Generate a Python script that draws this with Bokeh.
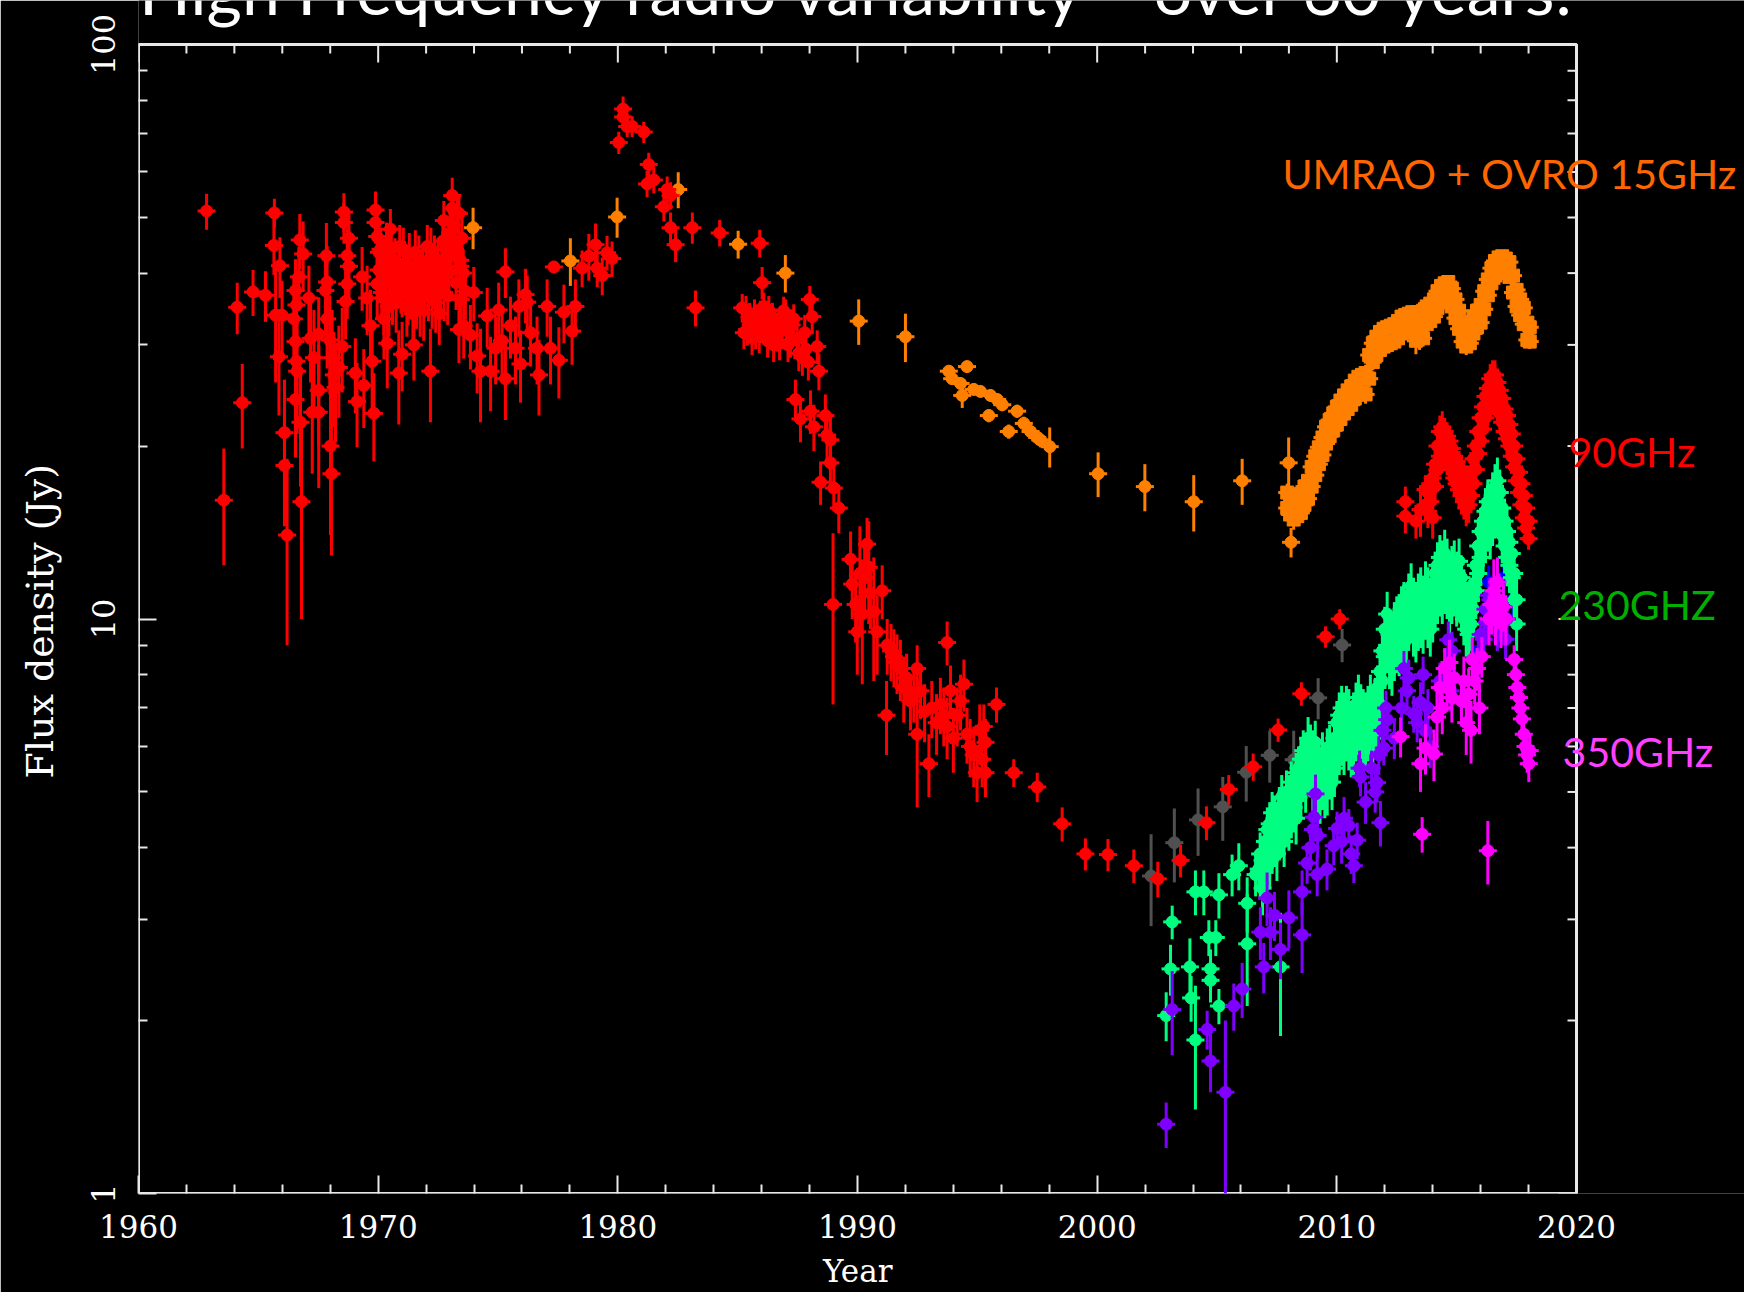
from bokeh.plotting import figure
from bokeh.models import Range1d, FixedTicker, Label
from bokeh.embed import file_html
from bokeh.resources import INLINE

# ---------------------------------------------------------------------------
# Flux density light curves: epoch (year), flux density (Jy), 1-sigma error (Jy)
# ---------------------------------------------------------------------------

# High-frequency (90 GHz) monitoring, individual epochs, red
red_year = [
    1962.84, 1963.56, 1964.12, 1964.33, 1964.78, 1965.30, 1965.65, 1965.67, 1965.72, 1965.86,
    1965.90, 1965.99, 1966.09, 1966.09, 1966.20, 1966.48, 1966.55, 1966.55, 1966.55, 1966.59,
    1966.59, 1966.62, 1966.69, 1966.73, 1966.76, 1966.80, 1966.87, 1967.11, 1967.18, 1967.25,
    1967.32, 1967.52, 1967.52, 1967.52, 1967.80, 1967.84, 1967.87, 1967.87, 1967.98, 1968.01,
    1968.05, 1968.08, 1968.15, 1968.22, 1968.36, 1968.50, 1968.57, 1968.57, 1968.64, 1968.71,
    1968.71, 1968.78, 1968.78, 1969.05, 1969.12, 1969.33, 1969.40, 1969.54, 1969.68, 1969.75,
    1969.82, 1969.89, 1969.89, 1969.96, 1969.96, 1970.03, 1970.03, 1970.10, 1970.20, 1970.24,
    1970.24, 1970.30, 1970.38, 1970.40, 1970.50, 1970.51, 1970.60, 1970.70, 1970.80, 1970.86,
    1970.90, 1971.00, 1971.00, 1971.10, 1971.20, 1971.30, 1971.40, 1971.49, 1971.50, 1971.60,
    1971.70, 1971.80, 1971.90, 1972.00, 1972.10, 1972.18, 1972.20, 1972.30, 1972.40, 1972.50,
    1972.60, 1972.70, 1972.74, 1972.80, 1972.90, 1973.00, 1973.09, 1973.09, 1973.20, 1973.30,
    1973.37, 1973.37, 1973.43, 1973.43, 1973.50, 1973.57, 1973.64, 1973.85, 1973.99, 1974.13,
    1974.27, 1974.55, 1974.69, 1974.90, 1975.03, 1975.17, 1975.31, 1975.31, 1975.52, 1975.73,
    1975.87, 1975.94, 1976.15, 1976.22, 1976.36, 1976.63, 1976.71, 1977.05, 1977.19, 1977.33,
    1977.54, 1977.75, 1978.09, 1978.23, 1978.51, 1978.79, 1979.07, 1979.14, 1979.35, 1979.55,
    1979.76, 1980.04, 1980.22, 1980.22, 1980.39, 1980.60, 1981.08, 1981.22, 1981.29, 1981.50,
    1981.92, 1982.06, 1982.20, 1982.20, 1982.41, 1983.11, 1983.24, 1984.25, 1985.19, 1985.26,
    1985.40, 1985.50, 1985.60, 1985.70, 1985.81, 1985.90, 1985.92, 1986.02, 1986.09, 1986.20,
    1986.30, 1986.37, 1986.50, 1986.65, 1986.80, 1986.92, 1987.05, 1987.20, 1987.34, 1987.41,
    1987.48, 1987.62, 1987.70, 1987.85, 1988.01, 1988.04, 1988.11, 1988.18, 1988.32, 1988.39,
    1988.46, 1988.66, 1988.73, 1988.87, 1988.87, 1988.98, 1989.01, 1989.22, 1989.71, 1989.78,
    1989.92, 1989.99, 1990.10, 1990.20, 1990.30, 1990.40, 1990.47, 1990.54, 1990.68, 1990.82,
    1991.03, 1991.21, 1991.24, 1991.40, 1991.52, 1991.65, 1991.79, 1991.93, 1992.05, 1992.21,
    1992.35, 1992.49, 1992.49, 1992.63, 1992.80, 1992.98, 1993.10, 1993.30, 1993.46, 1993.60,
    1993.74, 1993.74, 1993.88, 1994.00, 1994.16, 1994.30, 1994.44, 1994.57, 1994.70, 1994.85,
    1994.99, 1995.10, 1995.20, 1995.27, 1995.34, 1995.34, 1995.80, 1996.52, 1997.50, 1998.54,
    1999.51, 2000.45, 2001.53, 2002.53, 2003.48, 2004.56, 2005.49, 2006.51, 2007.55, 2008.52,
    2009.53, 2010.12, 2012.86, 2012.86, 2013.30, 2013.49,
    # second pass through the crowded 1970-1973 and 1985-1988 stretches
    1970.15, 1970.35, 1970.45, 1970.55, 1970.65, 1970.75, 1970.85, 1970.95, 1971.05, 1971.15,
    1971.25, 1971.35, 1971.45, 1971.55, 1971.65, 1971.75, 1971.85, 1971.95, 1972.05, 1972.15,
    1972.25, 1972.35, 1972.45, 1972.55, 1972.65, 1972.75, 1972.85, 1972.95, 1973.05, 1973.15,
    1973.25, 1973.35, 1973.45, 1973.55,
    1985.35, 1985.55, 1985.75, 1985.95, 1986.15, 1986.25, 1986.45, 1986.55, 1986.75, 1986.85,
    1987.00, 1987.10, 1987.25, 1987.55, 1987.80, 1987.95,
]
red_flux = [
    51.3, 16.1, 34.9, 23.8, 37.1, 36.6, 44.7, 50.9, 33.8, 28.6,
    41.2, 33.8, 21.1, 18.5, 14.0, 33.3, 37.3, 30.4, 24.1, 35.2,
    28.1, 27.0, 39.4, 45.7, 22.0, 16.0, 43.2, 36.2, 30.8, 22.9,
    28.5, 31.3, 25.0, 22.9, 37.3, 42.9, 38.6, 33.3, 30.6, 20.0,
    17.9, 28.5, 26.6, 25.3, 27.4, 29.8, 51.1, 49.0, 35.7, 42.9,
    38.3, 46.0, 41.1, 26.8, 23.9, 39.4, 25.5, 36.2, 32.4, 28.1,
    22.8, 51.5, 49.0, 46.3, 38.3, 43.5, 40.5, 44.0, 41.0, 36.2,
    33.3, 38.5, 30.2, 43.0, 40.0, 47.7, 36.5, 42.0, 39.0, 26.8,
    44.5, 28.9, 37.5, 41.5, 35.0, 43.0, 38.0, 30.0, 40.5, 36.0,
    42.5, 38.5, 34.5, 41.0, 37.0, 27.0, 44.0, 39.5, 35.5, 42.0,
    38.0, 45.5, 49.4, 41.0, 36.5, 47.0, 51.9, 54.6, 44.0, 51.0,
    50.8, 31.9, 42.1, 41.1, 46.0, 32.4, 37.2, 31.2, 37.0, 28.7,
    27.0, 33.7, 27.0, 29.6, 34.5, 30.5, 40.2, 26.2, 32.4, 29.6,
    35.0, 27.8, 36.7, 35.6, 31.5, 29.6, 26.6, 35.0, 29.6, 41.0,
    28.2, 34.2, 31.7, 35.0, 40.8, 42.8, 44.8, 40.8, 39.6, 43.4,
    42.4, 67.5, 77.2, 74.8, 72.0, 72.0, 70.4, 57.2, 61.8, 58.1,
    52.2, 55.9, 54.6, 48.0, 44.8, 48.0, 34.8, 47.0, 34.8, 31.5,
    31.9, 33.5, 30.8, 34.0, 33.3, 31.0, 45.1, 38.5, 35.0, 32.0,
    34.5, 32.8, 30.0, 31.2, 33.0, 34.4, 32.0, 30.5, 33.3, 24.1,
    30.7, 22.3, 28.5, 29.5, 36.0, 23.0, 33.6, 21.6, 29.8, 27.0,
    17.3, 22.6, 20.9, 20.5, 18.7, 10.6, 16.9, 15.6, 12.7, 11.5,
    10.6, 9.5, 12.0, 10.2, 11.8, 13.5, 12.3, 11.1, 10.3, 9.5,
    11.2, 6.8, 9.0, 8.8, 8.6, 8.4, 8.2, 7.6, 7.9, 7.2,
    7.4, 8.2, 6.3, 7.5, 6.9, 5.6, 7.0, 6.6, 7.1, 6.8,
    9.1, 6.5, 7.5, 6.2, 6.8, 7.2, 7.7, 6.3, 6.0, 5.8,
    5.4, 6.4, 5.7, 6.5, 6.1, 5.4, 7.1, 5.4, 5.1, 4.4,
    3.9, 3.89, 3.72, 3.53, 3.80, 4.42, 5.05, 5.53, 6.41, 7.41,
    9.31, 10.0, 16.0, 15.1, 14.8, 15.5,
    37.0, 45.0, 35.0, 44.0, 39.5, 35.5, 41.5, 38.0, 44.0, 39.0,
    36.5, 40.0, 34.0, 43.5, 39.5, 35.0, 41.0, 37.5, 44.5, 40.0,
    36.0, 42.5, 39.0, 34.0, 40.5, 37.0, 44.0, 40.0, 43.0, 48.5,
    38.5, 45.5, 36.0, 40.0,
    34.5, 32.5, 31.5, 33.8, 33.0, 30.5, 33.5, 31.8, 30.2, 32.0,
    34.0, 30.0, 32.5, 29.0, 31.5, 28.0,
]
red_err = [
    3.7, 3.7, 3.6, 4.0, 3.4, 3.7, 5.0, 3.0, 8.0, 6.0,
    5.0, 5.0, 5.0, 4.0, 5.0, 6.0, 5.0, 6.0, 5.0, 5.0,
    6.0, 6.0, 5.0, 5.0, 5.0, 6.0, 6.0, 5.0, 5.0, 5.0,
    6.0, 5.0, 5.0, 6.0, 6.0, 6.0, 6.0, 6.0, 6.0, 6.0,
    5.0, 6.0, 5.0, 5.0, 5.0, 5.0, 4.0, 4.0, 5.0, 5.0,
    5.0, 5.0, 5.0, 4.0, 4.0, 5.0, 4.0, 5.0, 5.0, 5.0,
    4.0, 4.0, 4.0, 5.0, 5.0, 5.0, 5.0, 4.0, 4.0, 5.0,
    5.0, 4.0, 5.0, 4.0, 4.0, 4.0, 4.0, 4.0, 4.0, 5.0,
    4.0, 4.0, 4.0, 4.0, 4.0, 4.0, 4.0, 4.0, 4.0, 4.0,
    4.0, 4.0, 4.0, 4.0, 4.0, 5.0, 4.0, 4.0, 4.0, 4.0,
    4.0, 4.0, 4.0, 4.0, 4.0, 4.0, 4.0, 4.0, 4.0, 4.0,
    4.0, 4.0, 4.0, 4.0, 4.0, 4.0, 4.0, 4.0, 4.0, 4.0,
    5.0, 4.0, 4.0, 4.0, 4.0, 4.0, 4.0, 4.0, 4.0, 4.0,
    4.0, 4.0, 4.0, 4.0, 4.0, 4.0, 4.0, 4.0, 4.0, 1.0,
    4.0, 4.0, 4.0, 4.0, 3.0, 4.0, 4.0, 3.0, 3.0, 3.0,
    3.0, 3.0, 4.0, 3.0, 3.0, 3.0, 3.0, 3.0, 3.0, 3.0,
    3.0, 3.0, 3.0, 3.0, 3.0, 3.0, 2.5, 2.5, 2.0, 2.0,
    2.0, 2.0, 2.0, 2.0, 2.0, 2.0, 2.5, 2.5, 2.0, 2.0,
    2.0, 2.0, 2.0, 2.0, 2.0, 2.0, 2.0, 2.0, 2.0, 2.0,
    2.0, 2.0, 2.0, 2.0, 2.0, 2.0, 2.0, 2.0, 2.0, 2.0,
    1.5, 2.0, 2.0, 2.0, 2.0, 3.5, 1.5, 1.5, 1.5, 1.5,
    1.5, 1.5, 2.5, 2.5, 1.5, 1.5, 2.5, 1.5, 2.5, 1.5,
    1.2, 1.0, 1.0, 1.0, 1.0, 1.0, 1.0, 1.0, 0.8, 0.8,
    0.8, 0.8, 1.6, 0.8, 0.8, 0.7, 0.8, 0.8, 0.8, 0.8,
    0.8, 0.8, 0.8, 0.8, 0.8, 0.8, 0.8, 0.7, 0.7, 0.7,
    0.6, 0.7, 0.6, 0.6, 0.6, 0.5, 0.5, 0.3, 0.3, 0.3,
    0.25, 0.25, 0.25, 0.25, 0.25, 0.3, 0.3, 0.3, 0.3, 0.35,
    0.4, 0.4, 1.0, 1.0, 1.0, 1.6,
    4.0, 4.0, 4.0, 4.0, 4.0, 4.0, 4.0, 4.0, 4.0, 4.0,
    4.0, 4.0, 4.0, 4.0, 4.0, 4.0, 4.0, 4.0, 4.0, 4.0,
    4.0, 4.0, 4.0, 4.0, 4.0, 4.0, 4.0, 4.0, 4.0, 4.0,
    4.0, 4.0, 4.0, 4.0,
    2.0, 2.0, 2.0, 2.0, 2.0, 2.0, 2.0, 2.0, 2.0, 2.0,
    2.0, 2.0, 2.0, 2.0, 2.0, 2.0,
]

# 90 GHz dense monitoring since 2013.7: two readings per epoch, red
red_dense_year = [
    2013.7, 2013.8, 2013.9, 2014.0, 2014.1, 2014.2, 2014.3, 2014.4, 2014.5, 2014.6,
    2014.7, 2014.8, 2014.9, 2015.0, 2015.1, 2015.2, 2015.3, 2015.4, 2015.5, 2015.6,
    2015.7, 2015.8, 2015.9, 2016.0, 2016.1, 2016.2, 2016.3, 2016.4, 2016.5, 2016.6,
    2016.7, 2016.8, 2016.9, 2017.0, 2017.1, 2017.2, 2017.3, 2017.4, 2017.5, 2017.6,
    2017.7, 2017.8, 2017.9, 2018.0,
]
red_dense_a = [
    15.8, 15.4, 16.0, 15.0, 17.0, 18.2, 19.2, 19.8, 19.4, 19.0,
    18.6, 18.2, 17.6, 17.2, 16.8, 16.4, 16.0, 15.6, 15.8, 16.4,
    17.2, 18.2, 19.4, 20.4, 21.4, 22.4, 23.2, 24.0, 24.4, 24.2,
    23.6, 22.8, 22.0, 21.2, 20.6, 20.0, 19.2, 18.4, 17.4, 16.6,
    15.8, 15.0, 14.4, 13.8,
]
red_dense_b = [
    16.8, 16.6, 17.2, 17.6, 18.6, 20.0, 21.2, 21.6, 21.2, 20.8,
    20.4, 19.8, 19.2, 18.8, 18.4, 18.0, 17.6, 17.2, 17.4, 18.0,
    19.0, 20.0, 21.2, 22.4, 23.4, 24.4, 25.2, 26.2, 26.6, 26.6,
    25.8, 25.0, 24.2, 23.2, 22.6, 21.8, 21.0, 20.0, 19.0, 18.0,
    17.2, 16.4, 15.6, 14.8,
]
red_dense_err = [
    1.0, 1.0, 1.0, 1.2, 1.2, 1.2, 1.4, 1.4, 1.2, 1.2,
    1.2, 1.2, 1.2, 1.2, 1.2, 1.2, 1.1, 1.1, 1.1, 1.1,
    1.2, 1.2, 1.3, 1.3, 1.4, 1.4, 1.5, 1.6, 1.6, 1.6,
    1.5, 1.4, 1.4, 1.3, 1.3, 1.2, 1.2, 1.1, 1.0, 1.0,
    0.9, 0.8, 0.7, 0.6,
]

# UMRAO 15 GHz, sparse epochs, orange
umrao_year = [
    1973.96, 1978.02, 1979.97, 1982.52, 1985.02, 1986.99, 1990.05, 1992.00, 1993.81, 1993.95,
    1994.30, 1994.37, 1994.57, 1994.85, 1995.13, 1995.48, 1995.55, 1995.83, 1996.04, 1996.31,
    1996.66, 1996.94, 1997.22, 1997.50, 1997.63, 1998.02, 2000.04, 2001.99, 2004.03, 2006.05,
    2007.99, 2008.09,
]
umrao_flux = [
    48.0, 42.0, 50.1, 55.9, 44.9, 40.0, 33.0, 31.0, 27.0, 26.2,
    25.7, 24.5, 27.5, 25.1, 24.9, 22.6, 24.5, 24.1, 23.6, 21.2,
    23.0, 21.9, 21.2, 20.7, 20.5, 19.95, 17.9, 17.0, 16.0, 17.4,
    18.7, 13.6,
]
umrao_err = [
    4.0, 4.0, 4.0, 4.0, 2.5, 3.0, 3.0, 3.0, 0.6, 0.6,
    0.6, 1.2, 0.6, 0.6, 0.6, 0.6, 0.6, 0.6, 0.6, 0.6,
    0.6, 0.6, 0.6, 0.6, 0.6, 1.6, 1.6, 1.6, 1.8, 1.6,
    2.0, 0.8,
]

# OVRO 15 GHz dense monitoring: two readings per epoch, orange
ovro_year = [
    2007.93, 2008.05, 2008.20, 2008.35, 2008.50, 2008.65, 2008.80, 2008.95, 2009.10, 2009.25,
    2009.40, 2009.55, 2009.70, 2009.85, 2010.00, 2010.15, 2010.30, 2010.45, 2010.60, 2010.75,
    2010.90, 2011.05, 2011.20, 2011.35, 2011.50, 2011.65, 2011.80, 2011.95, 2012.10, 2012.25,
    2012.40, 2012.55, 2012.70, 2012.85, 2013.00, 2013.15, 2013.30, 2013.45, 2013.60, 2013.75,
    2013.90, 2014.05, 2014.20, 2014.35, 2014.50, 2014.65, 2014.80, 2014.95, 2015.10, 2015.25,
    2015.40, 2015.55, 2015.70, 2015.85, 2016.00, 2016.15, 2016.30, 2016.45, 2016.60, 2016.75,
    2016.90, 2017.05, 2017.20, 2017.35, 2017.50, 2017.65, 2017.80, 2017.95, 2018.05,
]
ovro_a = [
    15.6, 15.2, 14.9, 15.1, 15.3, 15.8, 16.2, 17.0, 17.8, 18.6,
    19.3, 20.2, 20.8, 21.3, 21.8, 22.3, 22.8, 23.2, 23.6, 24.2,
    24.6, 24.8, 24.6, 26.2, 28.0, 28.8, 29.4, 29.8, 30.0, 30.2,
    30.4, 30.8, 31.4, 31.6, 31.8, 32.0, 30.5, 31.0, 30.8, 32.6,
    33.0, 33.6, 34.8, 35.6, 36.0, 36.2, 35.0, 33.4, 32.0, 30.4,
    29.8, 30.2, 31.4, 32.2, 32.8, 34.6, 36.6, 38.4, 39.6, 40.2,
    40.4, 40.0, 39.4, 37.0, 35.0, 33.8, 32.6, 30.6, 30.4,
]
ovro_b = [
    16.6, 16.4, 16.0, 16.2, 16.5, 17.0, 17.4, 18.4, 19.2, 19.9,
    20.7, 21.6, 22.2, 22.8, 23.4, 24.0, 24.5, 25.0, 25.4, 26.0,
    26.4, 26.6, 26.8, 28.8, 30.2, 31.0, 31.6, 32.0, 32.2, 32.4,
    32.6, 33.0, 33.6, 33.8, 34.0, 34.2, 33.6, 34.0, 34.4, 35.0,
    35.4, 36.0, 37.2, 38.0, 38.4, 38.6, 37.6, 36.0, 34.4, 32.6,
    31.8, 32.4, 33.6, 34.4, 35.2, 37.2, 39.0, 40.8, 42.0, 42.6,
    42.8, 42.4, 41.8, 39.6, 37.4, 36.0, 34.8, 32.8, 32.2,
]
ovro_err = [
    0.6, 0.6, 0.6, 0.6, 0.6, 0.6, 0.7, 0.7, 0.7, 0.7,
    0.7, 0.7, 0.8, 0.8, 0.8, 0.8, 0.8, 0.8, 0.8, 0.8,
    0.9, 0.9, 0.9, 0.9, 0.9, 0.9, 0.9, 1.0, 1.0, 1.0,
    1.0, 1.0, 1.0, 1.0, 1.0, 1.0, 1.6, 1.6, 1.0, 1.0,
    1.0, 1.0, 1.0, 1.0, 1.0, 1.0, 1.0, 1.0, 1.0, 1.0,
    1.0, 1.0, 1.0, 1.0, 1.0, 1.0, 1.0, 1.0, 1.0, 1.0,
    1.0, 1.0, 1.0, 1.0, 1.0, 1.0, 1.0, 0.9, 0.9,
]

# 230 GHz, individual early epochs, green
green_year = [
    2002.88, 2003.06, 2003.13, 2003.87, 2003.92, 2004.10, 2004.10, 2004.45, 2004.66, 2004.73,
    2004.73, 2004.95, 2005.08, 2005.08, 2005.63, 2005.91, 2006.26, 2006.26, 2006.61, 2006.74,
    2007.65,
]
green_flux = [
    2.04, 2.46, 2.97, 2.48, 2.19, 1.85, 3.35, 3.35, 2.79, 2.46,
    2.35, 2.79, 2.12, 3.31, 3.59, 3.72, 3.20, 2.72, 3.59, 3.67,
    2.48,
]
green_err = [
    0.20, 0.25, 0.20, 0.30, 0.20, 0.45, 0.30, 0.30, 0.20, 0.20,
    0.20, 0.20, 0.15, 0.30, 0.30, 0.35, 0.35, 0.60, 0.30, 0.30,
    0.60,
]

# 230 GHz dense monitoring: two readings per epoch, green
green_dense_year = [
    2006.8, 2006.9,
    2007.0, 2007.1, 2007.2, 2007.3, 2007.4, 2007.5, 2007.6, 2007.7, 2007.8, 2007.9,
    2008.0, 2008.1, 2008.2, 2008.3, 2008.4, 2008.5, 2008.6, 2008.7, 2008.8, 2008.9,
    2009.0, 2009.1, 2009.2, 2009.3, 2009.4, 2009.5, 2009.6, 2009.7, 2009.8, 2009.9,
    2010.0, 2010.1, 2010.2, 2010.3, 2010.4, 2010.5, 2010.6, 2010.7, 2010.8, 2010.9,
    2011.0, 2011.1, 2011.2, 2011.3, 2011.4, 2011.5, 2011.6, 2011.7, 2011.8, 2011.9,
    2012.0, 2012.1, 2012.2, 2012.3, 2012.4, 2012.5, 2012.6, 2012.7, 2012.8, 2012.9,
    2013.0, 2013.1, 2013.2, 2013.3, 2013.4, 2013.5, 2013.6, 2013.7, 2013.8, 2013.9,
    2014.0, 2014.1, 2014.2, 2014.3, 2014.4, 2014.5, 2014.6, 2014.7, 2014.8, 2014.9,
    2015.0, 2015.1, 2015.2, 2015.3, 2015.4, 2015.5, 2015.6, 2015.7, 2015.8, 2015.9,
    2016.0, 2016.1, 2016.2, 2016.3, 2016.4, 2016.5, 2016.6, 2016.7, 2016.8, 2016.9,
    2017.0, 2017.1, 2017.2, 2017.3, 2017.4, 2017.5,
]
green_dense_a = [
    3.6, 3.4,
    3.7, 3.9, 3.8, 4.0, 4.1, 3.9, 4.2, 4.3, 4.1, 4.5,
    4.4, 4.6, 4.7, 4.5, 4.9, 5.0, 5.3, 5.1, 5.5, 5.6,
    5.0, 5.3, 5.1, 4.9, 5.2, 5.0, 5.1, 5.4, 5.2, 5.5,
    5.8, 6.0, 6.2, 6.0, 6.3, 6.1, 5.9, 6.0, 6.3, 6.5,
    6.4, 6.2, 6.1, 6.3, 6.5, 6.2, 6.4, 6.7, 7.1, 7.8,
    8.6, 9.0, 8.4, 8.2, 8.7, 9.0, 8.9, 9.3, 9.6, 9.2,
    9.8, 10.2, 9.6, 9.4, 9.8, 10.0, 9.7, 10.3, 10.0, 9.6,
    10.2, 10.6, 11.0, 11.3, 11.0, 11.5, 11.2, 10.5, 11.0, 11.3,
    10.8, 11.2, 10.6, 10.0, 9.6, 9.4, 9.8, 10.4, 11.2, 12.0,
    12.8, 13.4, 14.0, 14.6, 14.2, 15.0, 15.4, 15.8, 15.0, 14.0,
    13.4, 12.8, 12.4, 11.8, 10.8, 9.8,
]
green_dense_b = [
    3.9, 3.8,
    4.1, 4.3, 4.4, 4.6, 4.5, 4.4, 4.7, 4.9, 4.6, 5.0,
    4.9, 5.2, 5.1, 5.4, 5.5, 5.7, 5.9, 5.8, 6.2, 6.0,
    5.9, 6.1, 5.7, 5.5, 5.8, 5.6, 5.9, 6.0, 5.7, 6.2,
    6.6, 6.8, 7.0, 6.8, 7.0, 6.9, 6.6, 6.8, 7.1, 7.3,
    7.0, 6.9, 6.8, 7.0, 7.3, 7.0, 7.2, 7.6, 8.1, 8.8,
    9.6, 10.2, 9.4, 9.2, 9.8, 10.0, 10.1, 10.4, 10.6, 10.3,
    11.0, 11.4, 10.8, 10.6, 11.0, 11.2, 10.9, 11.5, 11.2, 10.8,
    11.4, 12.0, 12.4, 12.8, 12.5, 13.0, 12.6, 11.8, 12.2, 12.5,
    12.0, 12.6, 11.8, 11.2, 10.6, 10.4, 10.8, 11.5, 12.4, 13.4,
    14.2, 14.8, 15.4, 16.0, 15.6, 16.4, 17.0, 17.4, 16.6, 15.6,
    14.8, 14.2, 13.6, 13.0, 12.0, 10.8,
]
green_dense_err = [
    0.35, 0.35,
    0.35, 0.40, 0.40, 0.40, 0.40, 0.40, 0.40, 0.45, 0.40, 0.45,
    0.45, 0.45, 0.45, 0.45, 0.50, 0.50, 0.50, 0.50, 0.55, 0.55,
    0.50, 0.55, 0.50, 0.50, 0.55, 0.50, 0.55, 0.55, 0.55, 0.60,
    0.60, 0.65, 0.65, 0.65, 0.65, 0.65, 0.60, 0.65, 0.65, 0.70,
    0.70, 0.65, 0.65, 0.65, 0.70, 0.65, 0.70, 0.70, 0.75, 0.80,
    0.90, 0.95, 0.85, 0.85, 0.90, 0.95, 0.95, 1.00, 1.00, 0.95,
    1.00, 1.10, 1.00, 1.00, 1.00, 1.10, 1.00, 1.10, 1.10, 1.00,
    1.10, 1.10, 1.20, 1.20, 1.20, 1.30, 1.20, 1.10, 1.20, 1.20,
    1.10, 1.20, 1.10, 1.00, 1.00, 1.00, 1.00, 1.10, 1.20, 1.30,
    1.40, 1.40, 1.50, 1.50, 1.50, 1.60, 1.60, 1.70, 1.60, 1.50,
    1.40, 1.40, 1.30, 1.20, 1.10, 1.00,
]

# 345 GHz, violet
violet_year = [
    2002.88, 2003.13, 2004.59, 2004.73, 2005.35, 2005.70, 2006.05, 2006.81, 2006.95, 2007.09,
    2007.23, 2007.40, 2007.65, 2008.00, 2008.55, 2008.55, 2008.76, 2008.90, 2009.00, 2009.04,
    2009.11, 2009.18, 2009.20, 2009.59, 2009.87, 2010.01, 2010.20, 2010.30, 2010.50, 2010.60,
    2010.71, 2010.85, 2010.95, 2010.99, 2011.20, 2011.45, 2011.60, 2011.68, 2011.75, 2011.82,
    2011.90, 2011.96, 2012.05, 2012.10, 2012.40, 2012.70, 2012.80, 2012.93, 2013.00, 2013.21,
    2013.35, 2013.49, 2013.60, 2013.70, 2013.80, 2013.90, 2014.30, 2014.60, 2014.65, 2014.74,
    2014.80, 2015.90, 2016.00, 2016.13, 2016.20, 2016.27, 2016.35, 2016.41, 2016.70, 2017.04,
    2017.10,
]
violet_flux = [
    1.32, 2.09, 1.93, 1.70, 1.50, 2.12, 2.27, 2.85, 2.48, 3.27,
    2.85, 3.05, 2.66, 3.02, 2.82, 3.35, 3.76, 4.00, 4.30, 4.52,
    4.96, 3.59, 4.20, 3.67, 4.03, 4.32, 4.10, 4.50, 4.37, 3.90,
    3.72, 4.12, 5.50, 5.31, 4.80, 5.50, 5.00, 5.19, 5.80, 4.42,
    6.40, 5.96, 7.00, 6.68, 6.20, 7.00, 8.20, 7.50, 7.90, 6.84,
    6.60, 7.16, 8.00, 6.38, 7.00, 6.00, 7.80, 8.22, 9.20, 7.50,
    8.80, 8.60, 9.40, 9.22, 10.4, 9.88, 11.0, 10.8, 9.50, 9.22,
    10.0,
]
violet_err = [
    0.12, 0.35, 0.15, 0.20, 0.50, 0.20, 0.25, 0.30, 0.25, 0.35,
    0.30, 0.30, 0.30, 0.35, 0.40, 0.30, 0.30, 0.35, 0.35, 0.40,
    0.40, 0.30, 0.35, 0.30, 0.30, 0.30, 0.35, 0.40, 0.30, 0.30,
    0.25, 0.30, 0.40, 0.40, 0.40, 0.40, 0.40, 0.40, 0.45, 0.40,
    0.50, 0.40, 0.50, 0.50, 0.50, 0.60, 0.60, 0.60, 0.60, 0.50,
    0.50, 0.60, 0.60, 0.50, 0.55, 0.50, 0.60, 0.60, 0.70, 0.60,
    0.70, 0.70, 0.70, 0.70, 0.80, 0.70, 0.80, 0.80, 0.70, 0.70,
    0.70,
]

# 350 GHz, magenta
magenta_year = [
    2012.66, 2013.49, 2013.56, 2013.70, 2014.05, 2014.18, 2014.30, 2014.40, 2014.50, 2014.60,
    2014.70, 2014.80, 2014.90, 2015.20, 2015.30, 2015.40, 2015.50, 2015.60, 2015.65, 2015.75,
    2015.85, 2015.95, 2016.05, 2016.30, 2016.35, 2016.45, 2016.55, 2016.62, 2016.70, 2016.76,
    2016.85, 2016.95, 2017.05, 2017.40, 2017.47, 2017.53, 2017.60, 2017.66, 2017.72, 2017.80,
    2017.87, 2017.94, 2018.01, 2018.05,
]
magenta_flux = [
    6.24, 5.60, 4.22, 5.96, 5.82, 6.75, 7.60, 7.00, 8.20, 7.60,
    8.40, 7.30, 7.90, 7.20, 7.80, 6.60, 7.40, 6.40, 8.50, 7.80,
    8.20, 7.00, 8.60, 3.95, 10.0, 10.6, 11.2, 10.2, 11.6, 10.8,
    9.90, 10.5, 10.0, 8.50, 8.00, 7.60, 7.30, 7.00, 6.70, 6.30,
    6.00, 5.80, 5.60, 5.90,
]
magenta_err = [
    0.50, 0.60, 0.30, 0.60, 0.60, 0.80, 0.70, 0.70, 0.70, 0.70,
    0.80, 0.70, 0.80, 0.70, 0.80, 0.80, 0.80, 0.80, 0.80, 0.70,
    0.70, 0.70, 0.70, 0.50, 1.00, 1.20, 1.50, 1.20, 1.20, 1.20,
    1.00, 1.00, 1.00, 0.50, 0.50, 0.50, 0.40, 0.40, 0.40, 0.40,
    0.40, 0.40, 0.40, 0.40,
]

# Additional high-frequency epochs, grey and blue
grey_year = [2002.25, 2003.22, 2004.21, 2005.24, 2006.22, 2007.20, 2008.20, 2009.22, 2010.22]
grey_flux = [3.57, 4.08, 4.47, 4.71, 5.41, 5.79, 5.69, 7.29, 9.01]
grey_err = [0.65, 0.60, 0.60, 0.60, 0.60, 0.60, 0.70, 0.60, 0.60]

blue_year = [2012.82, 2015.78, 2016.34, 2016.97, 2017.35]
blue_flux = [10.0, 8.51, 11.6, 11.8, 10.8]
blue_err = [0.6, 0.5, 0.8, 0.8, 0.7]

# Axis ticks
year_major = [1960, 1970, 1980, 1990, 2000, 2010, 2020]
year_minor = [1962, 1964, 1966, 1968, 1972, 1974, 1976, 1978, 1982, 1984, 1986, 1988,
              1992, 1994, 1996, 1998, 2002, 2004, 2006, 2008, 2012, 2014, 2016, 2018]
flux_major = [1, 10, 100]
flux_minor = [2, 3, 4, 5, 6, 7, 8, 9, 20, 30, 40, 50, 60, 70, 80, 90]

# Band labels: text, colour, left edge (year), vertical centre (Jy)
band_text = ["UMRAO + OVRO 15GHz", "90GHz", "230GHZ", "350GHz"]
band_color = ["#FF6600", "#FF0000", "#00B000", "#FF40FF"]
band_year = [2007.73, 2019.67, 2019.25, 2019.42]
band_flux = [59.65, 19.57, 10.60, 5.88]

TITLE = "High Frequency radio variability \u2013 over 60 years!"
X_TITLE = "Year"
Y_TITLE = "Flux density (Jy)"

# ---------------------------------------------------------------------------
# Page geometry (pixels)
W, H = 1744, 1292
LEFT, BOTTOM = 138, 99            # borders holding the labelled axes
PLOT_W, PLOT_H = 1438, 1149       # the boxed 1960-2020 x 1-100 Jy area
PX_PER_YEAR = PLOT_W / (year_major[-1] - year_major[0])
PX_PER_DEC = PLOT_H / 2.0
TICK_MAJOR, TICK_MINOR = 18, 9

# The frame runs to the top and right edges of the page so that the title and
# the band labels (which overhang the box) are not cut away; the box itself is
# drawn as a quad at the outer tick values.
x_end = year_major[-1] + (W - LEFT - PLOT_W) / PX_PER_YEAR
y_end = flux_major[-1] * 10 ** ((H - BOTTOM - PLOT_H) / PX_PER_DEC)

# Axis titles are centred on the whole frame; trailing no-break spaces move the
# visible words back to the middle of the boxed area.
NBSP = "\u00a0"
X_TITLE_PAD = 17
Y_TITLE_PAD = 4

SERIF = "DejaVu Serif"
AXIS_GREY = "#e8e8e8"

p = figure(width=W, height=H,
           x_range=Range1d(year_major[0], x_end), y_range=Range1d(flux_major[0], y_end),
           y_axis_type="log", output_backend="svg", toolbar_location=None,
           background_fill_color="black", border_fill_color="black",
           min_border_left=LEFT, min_border_right=0,
           min_border_top=0, min_border_bottom=BOTTOM)
p.grid.visible = False
p.outline_line_color = None

x_ticker = FixedTicker(ticks=year_major, minor_ticks=year_minor)
y_ticker = FixedTicker(ticks=flux_major, minor_ticks=flux_minor)


def style_axis(ax):
    # the box quad draws the frame, so the axis rules stay hidden
    ax.axis_line_color = None
    ax.axis_line_alpha = 0
    ax.major_tick_line_color = AXIS_GREY
    ax.minor_tick_line_color = AXIS_GREY
    ax.major_tick_line_width = 2
    ax.minor_tick_line_width = 2
    ax.major_tick_in = TICK_MAJOR
    ax.major_tick_out = 0
    ax.minor_tick_in = TICK_MINOR
    ax.minor_tick_out = 0
    ax.major_label_text_color = "white"
    ax.major_label_text_font = SERIF
    ax.axis_label_text_color = "white"
    ax.axis_label_text_font = SERIF
    ax.axis_label_text_font_style = "normal"


xax = p.xaxis[0]
xax.ticker = x_ticker
style_axis(xax)
xax.major_label_text_font_size = "31px"
xax.major_label_standoff = 21
xax.axis_label = X_TITLE + NBSP * X_TITLE_PAD
xax.axis_label_text_font_size = "31px"
xax.axis_label_standoff = 12

yax = p.yaxis[0]
yax.ticker = y_ticker
style_axis(yax)
yax.major_label_text_font_size = "32px"
yax.axis_label = Y_TITLE + NBSP * Y_TITLE_PAD
yax.axis_label_text_font_size = "38px"
yax.major_label_orientation = "vertical"
yax.major_label_overrides = {1: "1", 10: "10", 100: "100"}
yax.major_label_standoff = 24
yax.axis_label_standoff = 27

# box around the 1960-2020 x 1-100 Jy area
p.quad(left=[year_major[0]], right=[year_major[-1]],
       bottom=[flux_major[0]], top=[flux_major[-1]],
       fill_color=None, line_color=AXIS_GREY, line_width=3)

# mirrored tick marks along the top and right sides of the box
y_top = flux_major[-1]
x_right = year_major[-1]
top_major_y1 = y_top / 10 ** (TICK_MAJOR / PX_PER_DEC)
top_minor_y1 = y_top / 10 ** (TICK_MINOR / PX_PER_DEC)
p.segment(x0=year_major, y0=[y_top] * len(year_major),
          x1=year_major, y1=[top_major_y1] * len(year_major),
          line_color=AXIS_GREY, line_width=2)
p.segment(x0=year_minor, y0=[y_top] * len(year_minor),
          x1=year_minor, y1=[top_minor_y1] * len(year_minor),
          line_color=AXIS_GREY, line_width=2)
p.segment(x0=[x_right] * len(flux_major), y0=flux_major,
          x1=[x_right - TICK_MAJOR / PX_PER_YEAR] * len(flux_major), y1=flux_major,
          line_color=AXIS_GREY, line_width=2)
p.segment(x0=[x_right] * len(flux_minor), y0=flux_minor,
          x1=[x_right - TICK_MINOR / PX_PER_YEAR] * len(flux_minor), y1=flux_minor,
          line_color=AXIS_GREY, line_width=2)


def draw_series(xs, ys, es, color, marker="circle", size=12):
    lo = [y - e for y, e in zip(ys, es)]
    hi = [y + e for y, e in zip(ys, es)]
    p.segment(x0=xs, y0=lo, x1=xs, y1=hi, line_color=color, line_width=3)
    p.scatter(x=xs, y=ys, marker="dash", size=18, line_color=color, line_width=3)
    p.scatter(x=xs, y=ys, marker=marker, size=size,
              fill_color=color, line_color=color)


ORANGE = "#FF8000"
RED = "#FF0000"
GREEN = "#00FF80"

draw_series(grey_year, grey_flux, grey_err, "#505050")
draw_series(umrao_year, umrao_flux, umrao_err, ORANGE)
draw_series(ovro_year, ovro_a, ovro_err, ORANGE, marker="square", size=13)
draw_series(ovro_year, ovro_b, ovro_err, ORANGE, marker="square", size=13)
draw_series(red_year, red_flux, red_err, RED)
draw_series(red_dense_year, red_dense_a, red_dense_err, RED)
draw_series(red_dense_year, red_dense_b, red_dense_err, RED)
draw_series(blue_year, blue_flux, blue_err, "#0000FF")
draw_series(green_year, green_flux, green_err, GREEN)
draw_series(green_dense_year, green_dense_a, green_dense_err, GREEN)
draw_series(green_dense_year, green_dense_b, green_dense_err, GREEN)
draw_series(violet_year, violet_flux, violet_err, "#8000FF")
draw_series(magenta_year, magenta_flux, magenta_err, "#FF00FF")

# slide title, running off the top edge of the page
p.add_layout(Label(x=1990.10, y=125.0, text=TITLE, text_align="center",
                   text_baseline="middle", text_color="white",
                   text_font="Lato", text_font_size="68px"))

# band labels
for t, c, bx, by in zip(band_text, band_color, band_year, band_flux):
    p.add_layout(Label(x=bx, y=by, text=t, text_color=c, text_font="Lato",
                       text_font_size="41px", text_baseline="middle",
                       text_align="left"))

open("out.html", "w").write(file_html(p, INLINE))
